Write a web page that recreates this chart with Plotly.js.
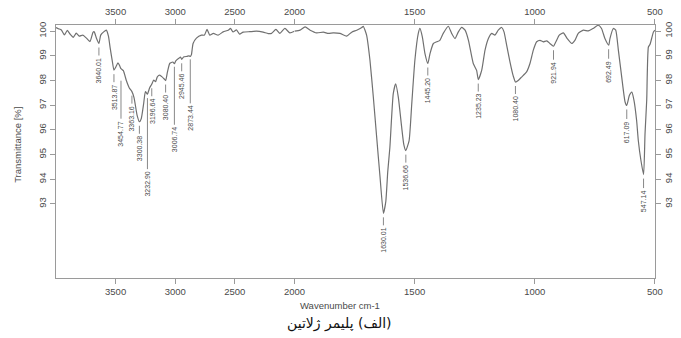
<!DOCTYPE html>
<html>
<head>
<meta charset="utf-8">
<script src="https://cdn.plot.ly/plotly-3.0.1.min.js"></script>
<style>
html,body{margin:0;padding:0;background:#fff;}
#chart{width:681px;height:338px;}
</style>
</head>
<body>
<div id="chart"></div>
<script>
// ---- Data ----
// High wavenumber segment 4000 -> 2000 cm-1 (compressed scale)
const wnHigh = [4000,3980,3955,3930,3905,3880,3855,3830,3805,3775,3745,3715,3690,3680,3660,3640,3625,3600,3578,3560,3545,3528,3514,3498,3480,3466,3455,3435,3410,3385,3363,3345,3320,3300,3285,3265,3250,3233,3215,3197,3180,3165,3150,3130,3110,3090,3080,3065,3045,3020,3007,2995,2970,2955,2945,2930,2900,2885,2873,2864,2850,2822,2780,2755,2733,2710,2680,2640,2598,2555,2536,2515,2486,2460,2430,2374,2320,2262,2220,2192,2155,2122,2080,2038,2000];
const tHigh  = [100.15,100.1,100.05,99.85,100.03,99.87,99.75,99.92,99.8,99.84,99.72,99.58,99.95,99.98,99.7,99.5,99.84,99.97,100.04,99.8,99.3,98.8,98.42,98.55,98.72,98.6,98.48,98.4,98.0,97.7,97.55,97.3,96.6,96.33,96.45,97.05,97.55,97.45,97.7,97.85,98.02,97.95,98.15,98.22,98.15,98.05,98.0,98.35,98.7,98.75,98.68,98.8,98.9,98.95,98.86,98.95,98.98,99.0,98.98,99.05,99.5,99.72,99.84,99.84,100.07,99.84,99.91,99.84,99.97,100.04,100.11,99.97,100.05,99.88,99.96,99.98,100.0,99.96,99.9,99.91,100.07,99.91,100.11,99.93,100.0];
// Low wavenumber segment 2000 -> 500 cm-1 (expanded scale)
const wnLow = [2000,1977,1956,1935,1908,1880,1859,1839,1811,1783,1762,1741,1720,1714,1700,1686,1672,1658,1644,1630,1620,1612,1603,1589,1579,1568,1554,1545,1537,1523,1512,1499,1485,1478,1468,1457,1445,1436,1422,1408,1395,1381,1360,1346,1332,1318,1304,1290,1276,1256,1242,1235,1221,1207,1193,1179,1166,1152,1138,1128,1117,1103,1090,1080,1069,1055,1034,1020,1006,992,978,965,950,937,922,912,898,881,865,846,833,819,798,777,757,736,722,708,692,687,673,663,652,638,624,617,606,596,587,576,569,558,547,541,534,527,520,506,500];
const tLow  = [100.0,100.04,100.17,100.04,99.93,99.96,99.91,99.93,99.91,99.8,99.96,100.04,100.15,100.2,99.84,98.82,97.33,95.7,94.08,92.62,93.1,94.3,95.3,97.47,97.87,97.33,96.11,95.4,95.16,95.57,97.06,98.82,99.9,100.11,99.77,99.09,98.69,99.09,99.5,99.57,99.63,99.91,100.2,99.91,99.7,99.97,100.15,100.04,99.63,98.69,98.41,98.04,98.41,99.23,99.7,99.91,99.84,100.04,100.15,99.97,99.43,98.75,98.2,97.94,98.0,98.14,98.35,98.69,99.23,99.57,99.63,99.57,99.61,99.5,99.39,99.57,99.84,99.93,99.7,99.5,99.63,99.91,100.04,100.01,100.11,100.24,100.11,99.7,99.43,99.7,100.11,100.04,99.23,98.14,97.13,96.99,97.4,97.53,97.2,96.38,95.57,94.76,94.19,95.85,97.2,99.36,99.47,99.97,100.04];

// Peak labels
const peakLabels = ['3640.01','3513.87','3454.77','3363.16','3300.38','3232.90','3196.64','3080.40','3006.74','2945.46','2873.44','1630.01','1536.66','1445.20','1235.23','1080.40','921.94','692.49','617.09','547.14'];
const peakT      = [99.5,98.42,98.48,97.55,96.33,97.45,97.85,98.0,98.68,98.86,98.98,92.62,95.16,98.69,98.04,97.94,99.39,99.43,96.99,94.19];

// Ticks
const xTicksHigh = [3500,3000,2500];
const xTicksLow  = [2000,1500,1000,500];
const yTicks     = [93,94,95,96,97,98,99,100];

// Texts
const xTitle = 'Wavenumber cm-1';
const yTitle = 'Transmittance [%]';
const caption = '(الف) پلیمر ژلاتین';

// ---- Styling / layout ----
const SPLIT = 0.398;
const axisCol = '#9a9a9a';
const txtCol = '#4a4a4a';
const lineCol = '#707070';
const tickFont = {family:'Liberation Sans, Arial, sans-serif', size:9.5, color:txtCol};

// arrow offset (px) from peak to label centre, and standoff, per label
const longLines = {'3454.77':[65,12], '3232.90':[90,4], '3006.74':[76,3], '2873.44':[62,3]};

const traces = [
  {x: wnHigh, y: tHigh, xaxis:'x', yaxis:'y', mode:'lines', type:'scatter',
   line:{color:lineCol, width:1.2, shape:'spline', smoothing:0.5}, hoverinfo:'skip'},
  {x: wnLow, y: tLow, xaxis:'x2', yaxis:'y', mode:'lines', type:'scatter',
   line:{color:lineCol, width:1.2, shape:'spline', smoothing:0.5}, hoverinfo:'skip'}
];

const baseX = {
  showgrid:false, zeroline:false, showline:true, linecolor:axisCol, linewidth:1,
  ticks:'outside', ticklen:5, tickcolor:axisCol, tickfont:tickFont, tickmode:'array', fixedrange:true
};

const layout = {
  width:681, height:338,
  margin:{l:56, r:26, t:25, b:60},
  paper_bgcolor:'#fff', plot_bgcolor:'#fff',
  showlegend:false,
  xaxis: Object.assign({}, baseX, {domain:[0,SPLIT], range:[4000,2000], tickvals:xTicksHigh, ticktext:xTicksHigh.map(String), anchor:'y'}),
  xaxis2: Object.assign({}, baseX, {domain:[SPLIT,1], range:[2000.5,499.5], tickvals:xTicksLow, ticktext:xTicksLow.map(String), anchor:'y'}),
  xaxis3: Object.assign({}, baseX, {overlaying:'x', side:'top', matches:'x', tickvals:xTicksHigh, ticktext:xTicksHigh.map(String), anchor:'y'}),
  xaxis4: Object.assign({}, baseX, {overlaying:'x2', side:'top', matches:'x2', tickvals:xTicksLow, ticktext:xTicksLow.map(String), anchor:'y'}),
  yaxis: {range:[90,100.25], showgrid:false, zeroline:false, showline:true, linecolor:axisCol,
    ticks:'outside', ticklen:5, tickcolor:axisCol, tickfont:tickFont, tickangle:-90,
    tickmode:'array', tickvals:yTicks, ticktext:yTicks.map(String), fixedrange:true, domain:[0,1]},
  yaxis2: {overlaying:'y', side:'right', matches:'y', showgrid:false, zeroline:false, showline:true, linecolor:axisCol,
    ticks:'outside', ticklen:5, tickcolor:axisCol, tickfont:tickFont, tickangle:-90,
    tickmode:'array', tickvals:yTicks, ticktext:yTicks.map(String), fixedrange:true, anchor:'x2'},
  annotations: []
};

peakLabels.forEach((lab, i) => {
  const wn = parseFloat(lab);
  const ll = longLines[lab];
  layout.annotations.push({
    x: wn, y: peakT[i], xref: wn >= 2000 ? 'x' : 'x2', yref:'y',
    text: lab, textangle:-90, showarrow:true, arrowhead:0, arrowwidth:0.9, arrowcolor:'#7a7a7a',
    ax:0, ay: ll ? ll[0] : 27, standoff: ll ? ll[1] : 4, borderpad:2,
    font:{family:'Liberation Sans, Arial, sans-serif', size:7, color:txtCol}
  });
});

layout.annotations.push({
  text:xTitle, xref:'paper', yref:'paper', x:0.4737, y:-0.107, showarrow:false,
  xanchor:'center', yanchor:'middle', font:{family:'Liberation Sans, Arial, sans-serif', size:9.5, color:txtCol}
});
layout.annotations.push({
  text:yTitle, xref:'paper', yref:'paper', x:-0.064, y:0.525, showarrow:false, textangle:-90,
  xanchor:'center', yanchor:'middle', font:{family:'Liberation Sans, Arial, sans-serif', size:9.5, color:txtCol}
});
layout.annotations.push({
  text:'\u200F' + caption + '\u200F', xref:'paper', yref:'paper', x:0.4737, y:-0.18, showarrow:false,
  xanchor:'center', yanchor:'middle', font:{family:'DejaVu Sans, Noto Sans, sans-serif', size:14, color:'#111'}
});

// invisible helpers so the top and right axes are drawn
traces.push({x:[3000], y:[95], xaxis:'x3', yaxis:'y2', mode:'markers', marker:{opacity:0}, hoverinfo:'skip', type:'scatter'});
traces.push({x:[1000], y:[95], xaxis:'x4', yaxis:'y2', mode:'markers', marker:{opacity:0}, hoverinfo:'skip', type:'scatter'});

Plotly.newPlot('chart', traces, layout, {staticPlot:true, displayModeBar:false});
</script>
</body>
</html>
